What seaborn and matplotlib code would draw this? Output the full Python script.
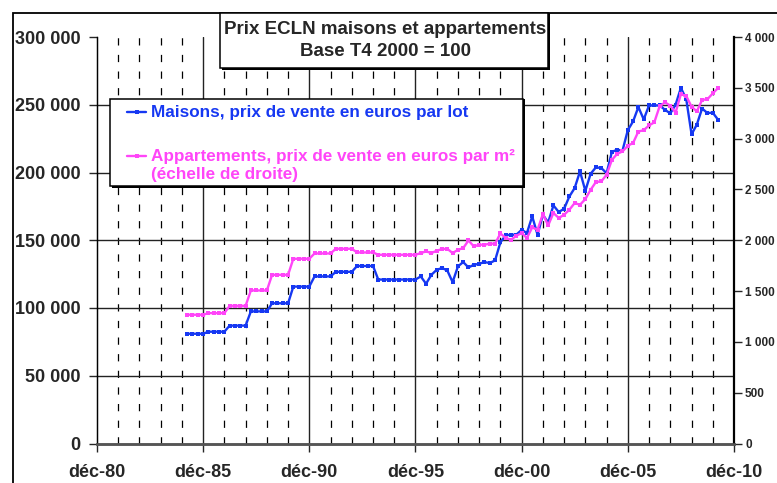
import numpy as np
import pandas as pd
import matplotlib
matplotlib.use("Agg")
import matplotlib.pyplot as plt
import seaborn as sns
from matplotlib.patches import Rectangle
from matplotlib.lines import Line2D
from matplotlib.ticker import FuncFormatter

# quarterly data, Q1 1985 -> Q1 2010
quarters = pd.period_range("1985Q1", "2010Q1", freq="Q")

maisons = [
    81000, 81000, 81000, 81000,
    82500, 82500, 82500, 82500,
    87000, 87000, 87000, 87000,
    97500, 97500, 97500, 97500,
    103500, 103500, 103500, 103500,
    115800, 115800, 115800, 115800,
    123300, 123300, 123300, 123300,
    126700, 126700, 126700, 126700,
    131000, 131000, 131000, 131000,
    121000, 121000, 121000, 121000,
    121000, 121000, 121000, 121000,
    123300, 117900, 124500, 128200,
    129500, 127700, 119100, 130700,
    133900, 129900, 131900, 132600,
    133900, 133200, 135100, 148500,
    153600, 154100, 154100, 157700,
    155300, 167600, 154100, 168800,
    163100, 175700, 170800, 173300,
    182300, 188500, 200800, 186500,
    199100, 203800, 203300, 199500,
    215200, 216800, 216200, 231300,
    237700, 248300, 239200, 249500,
    249500, 249500, 246300, 243600,
    250000, 262400, 254300, 228200,
    235300, 247200, 243900, 244100,
    239000,
]

appartements = [
    1267, 1267, 1267, 1267,
    1283, 1283, 1283, 1283,
    1355, 1355, 1355, 1355,
    1506, 1506, 1506, 1506,
    1660, 1660, 1660, 1660,
    1818, 1818, 1818, 1818,
    1870, 1870, 1870, 1870,
    1916, 1916, 1916, 1916,
    1880, 1880, 1880, 1880,
    1857, 1857, 1857, 1857,
    1857, 1857, 1857, 1857,
    1874, 1890, 1874, 1897,
    1913, 1916, 1874, 1906,
    1923, 1998, 1939, 1956,
    1956, 1966, 1966, 2067,
    2022, 2005, 2044, 2071,
    2022, 2126, 2103, 2258,
    2146, 2268, 2219, 2251,
    2300, 2366, 2349, 2405,
    2497, 2573, 2579, 2645,
    2790, 2850, 2874, 2930,
    2957, 3070, 3083, 3130,
    3160, 3317, 3357, 3325,
    3255, 3437, 3420, 3314,
    3268, 3380, 3388, 3445,
    3498,
]

title_line1 = "Prix ECLN maisons et appartements"
title_line2 = "Base T4 2000 = 100"
label_maisons = "Maisons, prix de vente en euros par lot"
label_appart = "Appartements, prix de vente en euros par m²"
label_appart2 = "(échelle de droite)"
left_ticks = [0, 50000, 100000, 150000, 200000, 250000, 300000]
right_ticks = [0, 500, 1000, 1500, 2000, 2500, 3000, 3500, 4000]
label_years = [1980, 1985, 1990, 1995, 2000, 2005, 2010]

BLUE = "#1638F2"
MAGENTA = "#FF45F8"
W, H = 777, 483

sns.set_style("white")
plt.rcParams["font.family"] = ["Liberation Sans", "DejaVu Sans"]
plt.rcParams["font.weight"] = "bold"

df = pd.DataFrame({
    "date": quarters.to_timestamp(how="end").normalize(),
    "maisons": maisons,
    "appartements": appartements,
})

fig = plt.figure(figsize=(W / 100, H / 100), dpi=100)
ax = fig.add_axes([97 / W, 1 - 443.5 / H, (734 - 97) / W, (443.5 - 37) / H])
ax2 = ax.twinx()

# grid: solid every 5 years, dashed every year, solid horizontals
for yr in range(1981, 2010):
    x = pd.Timestamp(f"{yr}-12-31")
    if yr % 5 == 0:
        ax.axvline(x, color="#222222", lw=1.0, zorder=0.5)
    else:
        ax.axvline(x, color="black", lw=0.9, dashes=(5.8, 7.5), zorder=0.5)
for v in left_ticks[1:-1]:
    ax.axhline(v, color="#222222", lw=1.0, zorder=0.5)

sns.lineplot(data=df, x="date", y="maisons", ax=ax, color=BLUE, lw=1.7,
             marker="s", markersize=3.4, markeredgewidth=0, zorder=3)
sns.lineplot(data=df, x="date", y="appartements", ax=ax2, color=MAGENTA, lw=1.7,
             marker="s", markersize=3.4, markeredgewidth=0, zorder=3)

xt = [pd.Timestamp(f"{y}-12-31") for y in label_years]
ax.set_xlim(xt[0], xt[-1])
ax.set_xticks(xt)
ax.set_xticklabels([f"déc-{y % 100:02d}" for y in label_years])
ax.set_ylim(0, 300000)
ax.set_yticks(left_ticks)
ax.yaxis.set_major_formatter(FuncFormatter(lambda v, p: f"{int(v):,}".replace(",", " ")))
ax2.set_ylim(0, 4000)
ax2.set_yticks(right_ticks)
ax2.yaxis.set_major_formatter(FuncFormatter(lambda v, p: f"{int(v):,}".replace(",", " ")))

ax.set_xlabel("")
ax.set_ylabel("")
ax2.set_ylabel("")
ax.tick_params(axis="y", direction="out", length=6, width=1, labelsize=13, pad=6, left=True)
ax.tick_params(axis="x", direction="out", length=6, width=1, labelsize=13, pad=9, bottom=True)
ax2.tick_params(axis="y", direction="out", length=6, width=1, labelsize=8.5, pad=2, right=True)

for a in (ax, ax2):
    a.spines["top"].set_visible(False)
    a.spines["left"].set_color("black")
    a.spines["left"].set_linewidth(0.9)
    a.spines["bottom"].set_color("#555555")
    a.spines["bottom"].set_linewidth(1.8)
    a.spines["right"].set_color("black")
    a.spines["right"].set_linewidth(1.6)
ax.spines["right"].set_visible(False)

tf = fig.transFigure

# outer frame (cut off at right and bottom)
fig.add_artist(Rectangle((13 / W, -0.2), 1.2, 1.2 - 13 / H, transform=tf,
                         fill=False, ec="black", lw=1.3, zorder=1))

# title box with shadow
fig.add_artist(Rectangle((221.5 / W, 1 - 69.5 / H), 328 / W, 56.5 / H, transform=tf,
                         fc="black", lw=0, zorder=4))
fig.add_artist(Rectangle((220 / W, 1 - 68 / H), 328 / W, 55 / H, transform=tf,
                         fc="white", ec="black", lw=1.1, zorder=5))
fig.text(385 / W, 1 - 29.5 / H, title_line1, ha="center", va="center", fontsize=13.5,
         fontweight="bold", zorder=6)
fig.text(385 / W, 1 - 52 / H, title_line2, ha="center", va="center", fontsize=13.5,
         fontweight="bold", zorder=6)

# legend box with shadow
fig.add_artist(Rectangle((111.5 / W, 1 - 187.5 / H), 413 / W, 88.5 / H, transform=tf,
                         fc="black", lw=0, zorder=4))
fig.add_artist(Rectangle((110 / W, 1 - 186 / H), 413 / W, 87 / H, transform=tf,
                         fc="white", ec="black", lw=1.1, zorder=5))
for color, yy in [(BLUE, 112), (MAGENTA, 156)]:
    fig.add_artist(Line2D([127 / W, 136.5 / W, 146 / W], [1 - yy / H] * 3, transform=tf,
                          color=color, lw=1.7, marker="s", markersize=3.2,
                          markeredgewidth=0, markevery=[1], zorder=6))
fig.text(151 / W, 1 - 112 / H, label_maisons, color=BLUE, va="center", fontsize=12.3,
         fontweight="bold", zorder=6)
fig.text(151 / W, 1 - 156 / H, label_appart, color=MAGENTA, va="center", fontsize=12.3,
         fontweight="bold", zorder=6)
fig.text(151 / W, 1 - 175 / H, label_appart2, color=MAGENTA, va="center", fontsize=12.3,
         fontweight="bold", zorder=6)

fig.savefig("out.png", dpi=100)
